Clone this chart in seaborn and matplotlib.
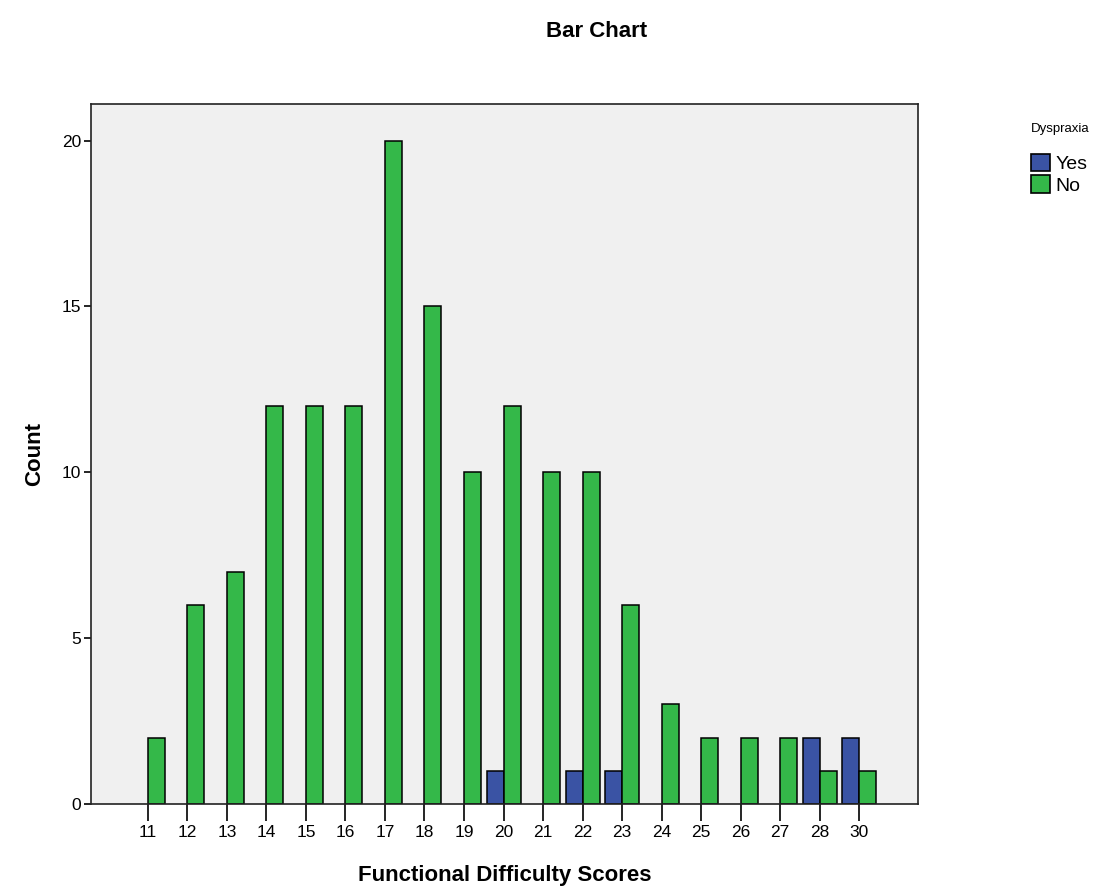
import matplotlib
matplotlib.use("Agg")
import matplotlib.pyplot as plt
import matplotlib.patches as mpatches
import seaborn as sns
import pandas as pd

# ── Data ──────────────────────────────────────────────────────────────────
scores    = ["11", "12", "13", "14", "15", "16", "17", "18", "19", "20",
             "21", "22", "23", "24", "25", "26", "27", "28", "30"]
count_yes = [0, 0, 0, 0, 0, 0, 0, 0, 0, 1, 0, 1, 1, 0, 0, 0, 0, 2, 2]
count_no  = [2, 6, 7, 12, 12, 12, 20, 15, 10, 12, 10, 10, 6, 3, 2, 2, 2, 1, 1]
groups    = ["Yes", "No"]
COLORS    = {"Yes": "#3a53a4", "No": "#34b849"}

df = pd.DataFrame({
    "score": scores * 2,
    "group": ["Yes"] * len(scores) + ["No"] * len(scores),
    "count": count_yes + count_no,
})
df = df[df["count"] > 0]   # SPSS draws no empty bars

sns.set_style("white")
plt.rcParams["font.family"] = ["Liberation Sans", "DejaVu Sans"]
plt.rcParams["text.color"] = "black"
plt.rcParams["axes.labelcolor"] = "black"
plt.rcParams["xtick.color"] = "black"
plt.rcParams["ytick.color"] = "black"

fig = plt.figure(figsize=(11.11, 8.96), dpi=100)
ax = fig.add_axes([0.0819, 0.1027, 0.7444, 0.7812])
ax.set_facecolor("#f0f0f0")

sns.barplot(data=df, x="score", y="count", hue="group",
            order=scores, hue_order=groups, palette=COLORS, saturation=1,
            width=0.86, dodge=True, edgecolor="black", linewidth=1.1,
            legend=False, ax=ax)

ax.set_xlim(-1.44, len(scores) - 1 + 1.49)
ax.set_ylim(0, 21.1)
ax.set_yticks([0, 5, 10, 15, 20])
for s in ax.spines.values():
    s.set_color("#222222")
    s.set_linewidth(1.2)
ax.tick_params(axis="x", direction="out", length=12, width=1.2,
               labelsize=12.5, pad=3, bottom=True)
ax.tick_params(axis="y", direction="out", length=5, width=1.2,
               labelsize=12.5, pad=2, left=True)

ax.set_xlabel("Functional Difficulty Scores", fontsize=16, fontweight="bold",
              labelpad=18)
ax.set_ylabel("Count", fontsize=16, fontweight="bold", labelpad=12)
fig.text(0.537, 0.965, "Bar Chart", ha="center", va="center",
         fontsize=16, fontweight="bold")

handles = [mpatches.Patch(facecolor=COLORS[g], edgecolor="black", linewidth=1.2,
                          label=g) for g in groups]
leg = fig.legend(handles=handles, title="Dyspraxia", loc="upper left",
                 bbox_to_anchor=(0.919, 0.874), frameon=False, fontsize=14,
                 title_fontsize=9.5, handlelength=1.0, handleheight=1.0,
                 handletextpad=0.25, labelspacing=0.1, borderpad=0)
leg._legend_box.align = "left"
leg._legend_box.sep = 14

plt.savefig("out.png", dpi=100)
plt.close()
